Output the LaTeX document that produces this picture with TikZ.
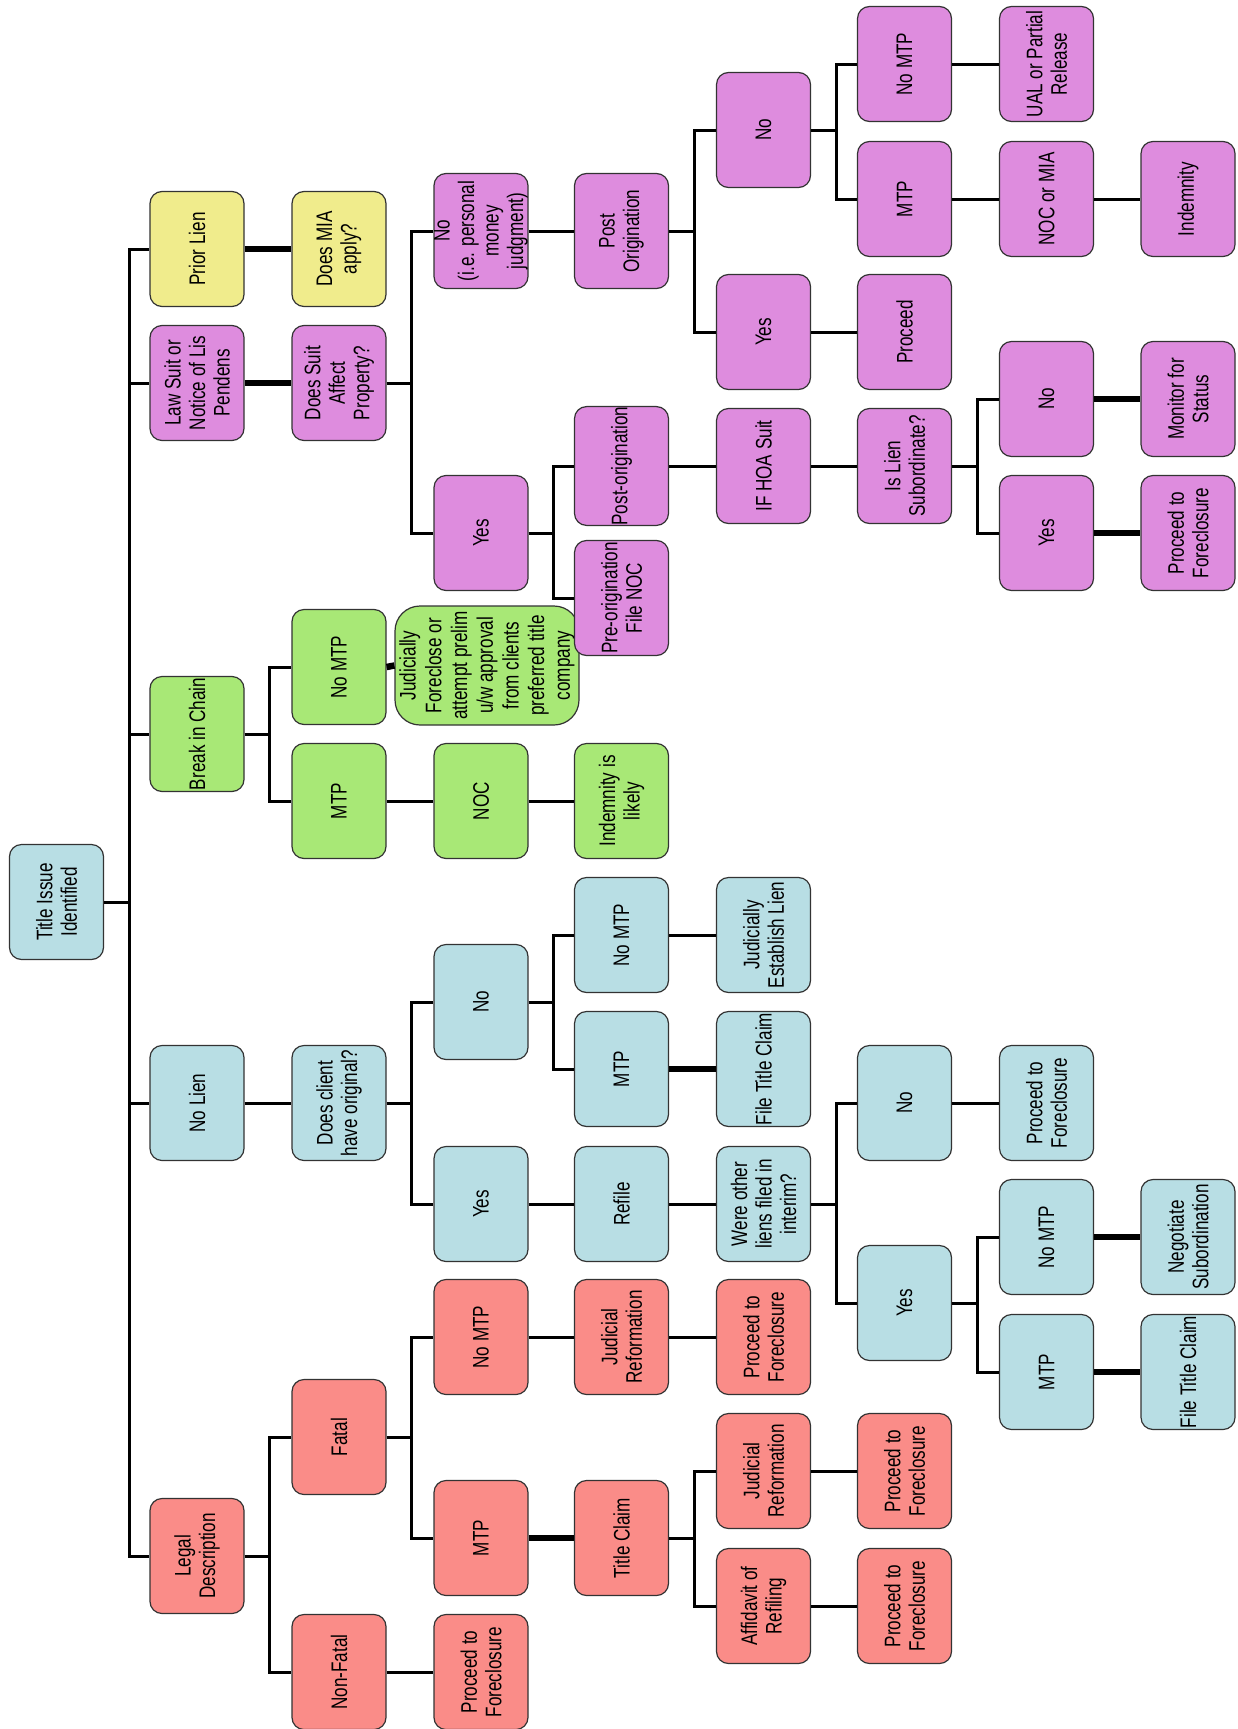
\documentclass[tikz,border=0pt]{standalone}
\usepackage{fontspec}
\setmainfont{Liberation Sans}[FakeStretch=0.76]
\usepackage{tikz}
\definecolor{pinkbox}{RGB}{222,140,222}
\definecolor{yellowbox}{RGB}{240,236,140}
\definecolor{greenbox}{RGB}{168,232,118}
\definecolor{bluebox}{RGB}{184,222,228}
\definecolor{redbox}{RGB}{250,140,136}
\tikzset{
  tb/.style={draw=black!80,line width=1.2pt,rounded corners=12pt,rotate=90,minimum width=115pt,minimum height=94pt,
    inner xsep=0pt,inner ysep=0pt,align=center,font=\fontsize{22.5}{24.5}\selectfont},
  pk/.style={tb,fill=pinkbox}, yl/.style={tb,fill=yellowbox}, gr/.style={tb,fill=greenbox},
  bl/.style={tb,fill=bluebox}, rd/.style={tb,fill=redbox},
  ln/.style={line width=3pt}, lnb/.style={line width=6.5pt},
}
\begin{document}
% boxes are turned a quarter turn: .north is the left side, .south the right side
\begin{tikzpicture}[x=1pt,y=-1pt]
  \useasboundingbox (0,0) rectangle (1237,1729);
  \node[bl] (tii) at (56.5,902){Title Issue\\Identified};
  % prior lien
  \node[yl] (pl) at (197,249){Prior Lien};
  \node[yl] (mia) at (339,249){Does MIA\\apply?};
  % break in chain
  \node[gr] (bic) at (197,734){Break in Chain};
  \node[gr] (gnomtp) at (339,667){No MTP};
  \node[gr] (gmtp) at (339,801){MTP};
  \node[gr,minimum width=119pt,minimum height=184pt,rounded corners=25pt,font=\fontsize{22.5}{25.7}\selectfont]
    (jud) at (487,665.5){Judicially\\Foreclose or\\attempt prelim\\u/w approval\\from clients\\preferred title\\company};
  \node[gr] (gnoc) at (481,801){NOC};
  \node[gr] (gind) at (621.5,801){Indemnity is\\likely};
  % law suit
  \node[pk] (ls) at (197,383){Law Suit or\\Notice of Lis\\Pendens};
  \node[pk] (dsa) at (339,383){Does Suit\\Affect\\Property?};
  \node[pk] (pno) at (481,231){No\\(i.e. personal\\money\\judgment)};
  \node[pk] (po) at (621.5,231){Post\\Origination};
  \node[pk] (pno2) at (763.5,130){No};
  \node[pk] (pyes2) at (763.5,332){Yes};
  \node[pk] (pnomtp) at (904.5,64){No MTP};
  \node[pk] (pmtp) at (904.5,199){MTP};
  \node[pk] (proc) at (904.5,332){Proceed};
  \node[pk] (ual) at (1046.5,64){UAL or Partial\\Release};
  \node[pk] (nocmia) at (1046.5,199){NOC or MIA};
  \node[pk] (indem) at (1188,199){Indemnity};
  \node[pk] (pyes) at (481,533){Yes};
  \node[pk] (postor) at (621.5,466){Post-origination};
  \node[pk] (preor) at (621.5,598){Pre-origination\\File NOC};
  \node[pk] (hoa) at (763.5,466){IF HOA Suit};
  \node[pk] (sub) at (904.5,466){Is Lien\\Subordinate?};
  \node[pk] (sno) at (1046.5,399){No};
  \node[pk] (syes) at (1046.5,533){Yes};
  \node[pk] (mon) at (1188,399){Monitor for\\Status};
  \node[pk] (sptf) at (1188,533){Proceed to\\Foreclosure};
  % no lien
  \node[bl] (nl) at (197,1103){No Lien};
  \node[bl] (dco) at (339,1103){Does client\\have original?};
  \node[bl] (bno) at (481,1002){No};
  \node[bl] (byes) at (481,1204){Yes};
  \node[bl] (bnomtp) at (621.5,935){No MTP};
  \node[bl] (bmtp) at (621.5,1069){MTP};
  \node[bl] (refile) at (621.5,1204){Refile};
  \node[bl] (jel) at (763.5,935){Judicially\\Establish Lien};
  \node[bl] (ftc) at (763.5,1069){File Title Claim};
  \node[bl] (wol) at (763.5,1204){Were other\\liens filed in\\interim?};
  \node[bl] (wno) at (904.5,1103){No};
  \node[bl] (wyes) at (904.5,1303){Yes};
  \node[bl] (wptf) at (1046.5,1103){Proceed to\\Foreclosure};
  \node[bl] (wnomtp) at (1046.5,1237){No MTP};
  \node[bl] (wmtp) at (1046.5,1372){MTP};
  \node[bl] (neg) at (1188,1237){Negotiate\\Subordination};
  \node[bl] (ftc2) at (1188,1372){File Title Claim};
  % legal description
  \node[rd] (ld) at (197,1556){Legal\\Description};
  \node[rd] (fatal) at (339,1437){Fatal};
  \node[rd] (nonfatal) at (339,1672){Non-Fatal};
  \node[rd] (rnomtp) at (481,1337){No MTP};
  \node[rd] (rmtp) at (481,1538){MTP};
  \node[rd] (ptf4) at (481,1672){Proceed to\\Foreclosure};
  \node[rd] (jr1) at (621.5,1337){Judicial\\Reformation};
  \node[rd] (tc) at (621.5,1538){Title Claim};
  \node[rd] (ptf1) at (763.5,1337){Proceed to\\Foreclosure};
  \node[rd] (jr2) at (763.5,1471){Judicial\\Reformation};
  \node[rd] (aff) at (763.5,1606){Affidavit of\\Refiling};
  \node[rd] (ptf2) at (904.5,1471){Proceed to\\Foreclosure};
  \node[rd] (ptf3) at (904.5,1606){Proceed to\\Foreclosure};

  % spine
  \draw[ln] (tii.south) -- ++(25,0) |- (pl.north);
  \draw[ln] (tii.south) -- ++(25,0) |- (ls.north);
  \draw[ln] (tii.south) -- ++(25,0) |- (bic.north);
  \draw[ln] (tii.south) -- ++(25,0) |- (nl.north);
  \draw[ln] (tii.south) -- ++(25,0) |- (ld.north);
  \draw[lnb] (pl.south) -- (mia.north);
  % green
  \draw[ln] (bic.south) -- ++(25,0) |- (gnomtp.north);
  \draw[ln] (bic.south) -- ++(25,0) |- (gmtp.north);
  \draw[lnb] (gnomtp.south) -- (jud.north);
  \draw[ln] (gmtp.south) -- (gnoc.north) (gnoc.south) -- (gind.north);
  % pink
  \draw[lnb] (ls.south) -- (dsa.north);
  \draw[ln] (dsa.south) -- ++(25,0) |- (pno.north);
  \draw[ln] (dsa.south) -- ++(25,0) |- (pyes.north);
  \draw[ln] (pno.south) -- (po.north);
  \draw[ln] (po.south) -- ++(25,0) |- (pno2.north);
  \draw[ln] (po.south) -- ++(25,0) |- (pyes2.north);
  \draw[ln] (pno2.south) -- ++(25,0) |- (pnomtp.north);
  \draw[ln] (pno2.south) -- ++(25,0) |- (pmtp.north);
  \draw[ln] (pnomtp.south) -- (ual.north);
  \draw[ln] (pmtp.south) -- (nocmia.north) (nocmia.south) -- (indem.north);
  \draw[ln] (pyes2.south) -- (proc.north);
  \draw[ln] (pyes.south) -- ++(25,0) |- (postor.north);
  \draw[ln] (pyes.south) -- ++(25,0) |- (preor.north);
  \draw[ln] (postor.south) -- (hoa.north) (hoa.south) -- (sub.north);
  \draw[ln] (sub.south) -- ++(25,0) |- (sno.north);
  \draw[ln] (sub.south) -- ++(25,0) |- (syes.north);
  \draw[lnb] (sno.south) -- (mon.north);
  \draw[lnb] (syes.south) -- (sptf.north);
  % blue
  \draw[ln] (nl.south) -- (dco.north);
  \draw[ln] (dco.south) -- ++(25,0) |- (bno.north);
  \draw[ln] (dco.south) -- ++(25,0) |- (byes.north);
  \draw[ln] (bno.south) -- ++(25,0) |- (bnomtp.north);
  \draw[ln] (bno.south) -- ++(25,0) |- (bmtp.north);
  \draw[ln] (bnomtp.south) -- (jel.north);
  \draw[lnb] (bmtp.south) -- (ftc.north);
  \draw[ln] (byes.south) -- (refile.north) (refile.south) -- (wol.north);
  \draw[ln] (wol.south) -- ++(25,0) |- (wno.north);
  \draw[ln] (wol.south) -- ++(25,0) |- (wyes.north);
  \draw[ln] (wno.south) -- (wptf.north);
  \draw[ln] (wyes.south) -- ++(25,0) |- (wnomtp.north);
  \draw[ln] (wyes.south) -- ++(25,0) |- (wmtp.north);
  \draw[lnb] (wnomtp.south) -- (neg.north);
  \draw[lnb] (wmtp.south) -- (ftc2.north);
  % red
  \draw[ln] (ld.south) -- ++(25,0) |- (fatal.north);
  \draw[ln] (ld.south) -- ++(25,0) |- (nonfatal.north);
  \draw[ln] (fatal.south) -- ++(25,0) |- (rnomtp.north);
  \draw[ln] (fatal.south) -- ++(25,0) |- (rmtp.north);
  \draw[ln] (rnomtp.south) -- (jr1.north) (jr1.south) -- (ptf1.north);
  \draw[lnb] (rmtp.south) -- (tc.north);
  \draw[ln] (tc.south) -- ++(25,0) |- (jr2.north);
  \draw[ln] (tc.south) -- ++(25,0) |- (aff.north);
  \draw[ln] (jr2.south) -- (ptf2.north);
  \draw[ln] (aff.south) -- (ptf3.north);
  \draw[ln] (nonfatal.south) -- (ptf4.north);
\end{tikzpicture}
\end{document}
